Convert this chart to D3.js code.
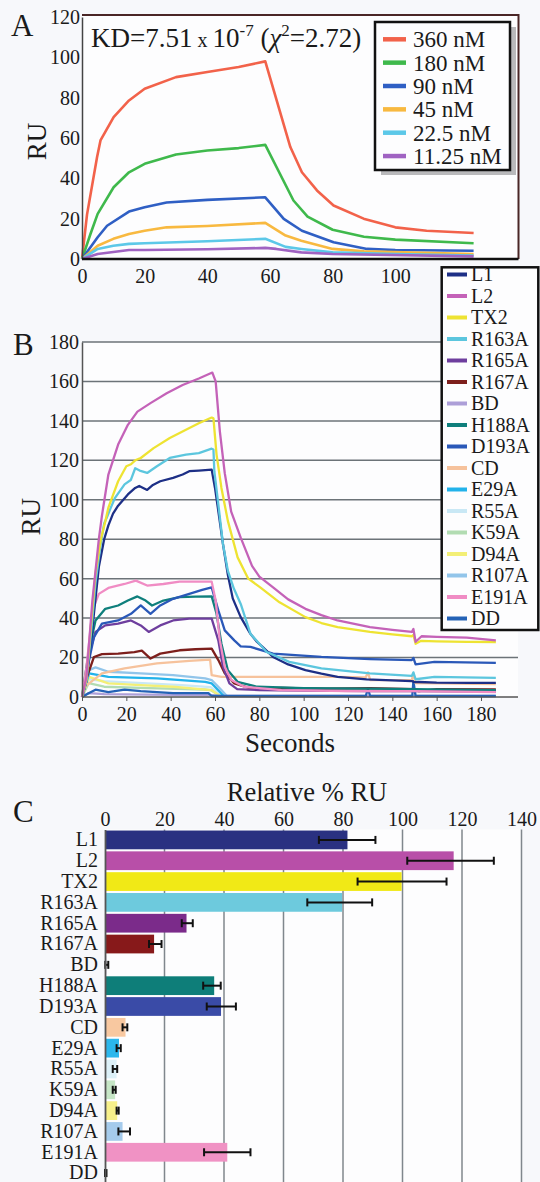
<!DOCTYPE html>
<html>
<head>
<meta charset="utf-8">
<script src="https://cdn.jsdelivr.net/npm/d3@7"></script>
<style>
  body { margin: 0; background: #f7f8fb; }
  svg text { font-family: "Liberation Serif", "Times New Roman", serif; }
</style>
</head>
<body>
<svg id="fig" width="540" height="1182"></svg>
<script>
// ---- panel A data: [seconds, RU] ----
const concLabels = ['360 nM', '180 nM', '90 nM', '45 nM', '22.5 nM', '11.25 nM'];
const conc360 = [[0,0],[1.6,22],[4.8,50.5],[5.9,58.8],[10.1,70.4],[15,78.6],[20,84.4],[30,90.2],[40,92.7],[50,95.2],[58.5,98],[66.5,55.5],[70.2,43],[75,34],[80.3,26.5],[89.9,20],[100,15.7],[110,14],[125,12.9]];
const conc180 = [[0,0],[2.7,12.4],[5,22.4],[10.1,35.6],[15,43],[20,47.2],[30,51.8],[40,53.8],[50,55],[58.5,56.6],[67.5,29],[72,21],[80,14.5],[90,11],[100,9.6],[125,7.8]];
const conc90 = [[0,0],[5,10.8],[8,16.5],[15,23.5],[20,25.7],[27,28],[40,29.3],[58.5,30.6],[64.4,19.9],[70.2,14],[80.3,8.3],[91,5],[100,4.5],[125,4.1]];
const conc45 = [[0,0],[5,6.6],[10,10],[15,12.4],[20,14],[27,15.7],[40,16.4],[58.5,17.9],[65,11.6],[70,9.1],[80,5],[90,3.8],[125,2.5]];
const conc22 = [[0,0],[5,5],[10,6.6],[15,7.5],[20,7.8],[40,8.8],[58.5,10],[65,6],[70,5],[80,3.3],[100,2.5],[125,1.7]];
const conc11 = [[0,0],[5,2.5],[15,4.5],[20,4.5],[40,4.8],[58.5,5.5],[62,5],[70,3.3],[80,2.5],[125,1.3]];
const concSeries = [conc360, conc180, conc90, conc45, conc22, conc11];
const ticksA_x = [0, 20, 40, 60, 80, 100];
const ticksA_y = [0, 20, 40, 60, 80, 100, 120];

// ---- panel B data: [seconds, RU] ----
const mutants = ['L1','L2','TX2','R163A','R165A','R167A','BD','H188A','D193A','CD','E29A','R55A','K59A','D94A','R107A','E191A','DD'];
const trL1 = [[0,0],[2,8],[4.7,35],[7.6,66],[10,80],[11.9,87],[14,93],[16.3,97],[20.7,102.7],[24,106],[25.8,107],[29.4,105],[32,107.5],[35.3,109.4],[41.1,111.1],[45.4,112.8],[48.4,114.5],[52.7,114.8],[58.5,115.3],[60,106],[61.5,94.3],[63.6,77.5],[65.8,62],[68,50],[71.6,40.5],[76,32],[78.9,28],[81.8,25],[86.2,20.3],[93,16.5],[100.8,13.6],[108,11.8],[115.3,10.2],[128.4,8.9],[140,8.4],[148.8,8.1],[150,7.5],[152,7.6],[160,7.3],[175,7.2],[186.7,7.2]];
const trL2 = [[0,0],[2,10],[4.7,49],[7.6,80],[9,92],[11.9,112.8],[16.3,128],[20.7,138],[25,144.7],[30.9,149],[38.2,154],[45.4,158.2],[52.7,161.5],[58.8,164.5],[60.3,160],[62.2,134.6],[64.4,113.5],[67.3,94],[71.6,80.8],[76.7,66.5],[80,61],[86.2,55.6],[93,49.5],[100.8,44.7],[108,41.5],[115.3,38.8],[129.9,35.4],[140,34],[148.8,33],[149.5,34.5],[150.5,28],[153.2,30.8],[160,30.5],[173.6,30.1],[186.7,28.7]];
const trTX2 = [[0,0],[2,9],[4.7,45],[6.1,63],[8.5,80],[10.5,89],[11.9,96],[16.3,109.4],[20,117],[22.1,118],[24,120],[26.5,121.2],[32.3,126.2],[39.6,131.3],[46.9,135.5],[52.7,138.8],[58.5,141.7],[59.3,141.3],[60.7,122.9],[62.9,106],[65.8,89.3],[70.2,70.8],[75,60],[80.4,55.6],[89.1,48],[100.8,40.5],[108,37.5],[115.3,35.4],[129.9,33],[140,31.8],[148.8,30.8],[149.5,31.5],[150.5,27],[153,28.5],[160,28.2],[173.6,27.9],[186.7,27.9]];
const trR163A = [[0,0],[2,8],[4.7,40],[6.1,58],[8.5,78],[10,88],[11.2,91],[13,96],[14.9,101],[19.2,107.8],[22,110],[24,116],[26,114.8],[29.4,113.6],[33.8,117],[39.6,121.2],[46.9,122.9],[52.7,123.7],[58.5,125.9],[59.3,125.5],[59.7,114.5],[61.5,97.7],[63.6,77.5],[65.8,64],[68.5,55],[71.6,47.2],[76,32],[83.3,22.8],[93.5,17.8],[108,14.5],[129.9,12],[148.8,10.7],[149.5,12.5],[150.5,9],[159,10.2],[186.7,9.7]];
const trR165A = [[0,0],[2,8],[3.2,22],[6.1,33],[10.5,36.3],[16.3,37.2],[22.1,38.8],[26.5,36.3],[30.1,33],[35.3,36.3],[41.1,38.8],[48.4,39.7],[58.5,39.7],[61.5,28.7],[63.6,15.3],[66.5,6.9],[70,4],[80,3.5],[100,3.2],[130,3],[150,3],[186.7,2.8]];
const trR167A = [[0,0],[2.2,10],[5.4,20.3],[9,21.7],[16.3,22],[23.6,22.8],[27,23.5],[30.9,19.5],[35.3,22],[44,23.7],[51.2,24.2],[58.5,24.5],[61.5,18.7],[64.4,12],[68.7,6.9],[76,4.4],[90,4.6],[110,4.2],[130,4.5],[150,4],[152,3],[160,4],[186.7,3.8]];
const trBD = [[0,0],[3,2],[10,1.5],[30,1.2],[58,1],[62,0.5],[100,0.5],[186.7,0.5]];
const trH188A = [[0,0],[3.2,24],[6.1,38.8],[10.5,44.7],[16.3,46.4],[20.7,48.9],[25,51],[28.7,48.9],[31.6,46.4],[36.7,48.9],[44,50.6],[51.2,50.9],[58.5,51],[60.7,42.2],[62.9,27],[65.8,13.6],[70.2,7.7],[79,5.2],[100,4.5],[130,4.2],[150,4],[186.7,3.5]];
const trD193A = [[0,0],[3.2,18.7],[5.4,30.4],[9,37.2],[16.3,38.8],[22.1,42.2],[26.5,46.4],[30.9,42.2],[35.3,46.4],[41.1,49.8],[48.4,52.3],[54.2,54.3],[58.5,55.6],[61.5,43.9],[64.4,33.8],[68.7,28.7],[71.6,25.7],[76,25.4],[86.2,22],[108,20.3],[129.9,19.2],[148.8,18.7],[149.5,19.8],[150.5,16.5],[159,17.8],[186.7,17.3]];
const trCD = [[0,0],[1,5],[9,12],[19.2,14.5],[33.8,17],[48.4,18.3],[57.8,19],[58.5,11.1],[62.9,10.2],[100,10.2],[115.3,10.2],[128,10],[129,12.5],[130,8.6],[148.8,8.6],[149.5,12],[150.5,7],[160,6.9],[186.7,6.5]];
const trE29A = [[0,0],[3.2,12],[11.9,10.2],[33.8,9.4],[55.6,7.7],[58.5,6.9],[64.4,0]];
const trR55A = [[0,0],[3,9],[10,8],[25,7.2],[45,6],[58,5],[64,0]];
const trK59A = [[0,0],[3,7],[10,5.2],[30,4.5],[55,3.8],[58,3.5],[63,0]];
const trD94A = [[0,0],[3.2,10.2],[11.9,6.9],[26.5,6],[41.1,5.2],[58.5,3.5],[62.9,0]];
const trR107A = [[0,0],[3.2,13.6],[6.1,15],[11.9,12.8],[26.5,12],[41.1,11.1],[55.6,9.4],[58.5,8.6],[62.9,3.5],[65.8,0]];
const trE191A = [[0,0],[2,15],[4.7,43.9],[7.6,52.3],[11.9,55.3],[19.2,57.3],[24.3,59],[29.4,56.5],[36.7,57.3],[44,58.5],[58.5,58.5],[60.3,48.9],[62.2,28.7],[64.4,15.3],[67.3,8.6],[73.1,5.2],[90,3.5],[120,3],[150,3],[186.7,2.5]];
const trDD = [[0,0],[3.2,2],[6.1,3.7],[11.9,2.5],[19.2,3.7],[26.5,3],[41.1,2],[57,2],[58.5,0.5],[128,0.5],[129,4],[130,0.5],[149,0.5],[149.5,8],[150.5,0.5],[186.7,0.5]];
const traces = [trL1, trL2, trTX2, trR163A, trR165A, trR167A, trBD, trH188A, trD193A, trCD, trE29A, trR55A, trK59A, trD94A, trR107A, trE191A, trDD];
const ticksB = [0, 20, 40, 60, 80, 100, 120, 140, 160, 180];

// ---- panel C data: relative % RU with error range ----
const relRU   = [81.5, 117.2, 99.7, 79.7, 27.4, 16.5, 0.4, 36.7, 39, 6.9, 4.7, 3.9, 3.4, 4.1, 5.9, 41.1, 0.3];
const relLow  = [71.9, 101.6, 84.9, 68, 25.8, 14.8, 0.1, 33, 34.2, 5.9, 3.9, 2.6, 2.6, 3.9, 4.5, 33.3, 0];
const relHigh = [90.9, 130.7, 114.8, 89.8, 29.5, 19, 1.1, 38.9, 44, 7.5, 5.3, 4.1, 3.6, 4.6, 8.4, 48.9, 0.5];
const ticksC = [0, 20, 40, 60, 80, 100, 120, 140];

// colours
const concColors = ['#f2624a', '#3fb94c', '#2f5fc4', '#f8b940', '#5cc8e8', '#a063c2'];
const lineColors = ['#1d2f86','#c462b8','#eee332','#5cc6de','#6e3e9e','#7d1f1c','#ad9fd8','#0f7f7c','#2a58b8','#f6c29c','#22b2ea','#c9e8f5','#b2dcb2','#f3ef76','#92c5ea','#f08cc4','#2462b6'];
const barColors = ['#2a3181','#b84fa8','#f1e916','#6dcadd','#7b2b8a','#87191a','#a99bd3','#0e7e79','#3a4ba7','#f8c8a0','#2cb7ec','#dcf0f8','#c6e6c6','#f7f08a','#a5cbec','#f092c4','#2a5cb0'];

const svg = d3.select('#fig');
const ink = '#1a1a1a';

function styleTicks(g, size) {
  g.selectAll('text').attr('font-size', size).attr('fill', ink);
  g.selectAll('line').attr('stroke', '#555');
}

// ================= Panel A =================
const xA = d3.scaleLinear().domain([0, 140]).range([82, 520.6]);
const yA = d3.scaleLinear().domain([0, 120]).range([259, 17]);
const gA = svg.append('g');
const aRight = 518.5, aTop = 15;

gA.append('rect')
  .attr('x', xA(0)).attr('y', aTop)
  .attr('width', aRight - xA(0)).attr('height', yA(0) - aTop)
  .attr('fill', '#fdfdfe');
gA.append('path')
  .attr('d', `M${xA(0)},${aTop}H${aRight}V${yA(0)}`)
  .attr('fill', 'none').attr('stroke', '#4a2626').attr('stroke-width', 2);

const lineA = d3.line().x(d => xA(d[0])).y(d => yA(d[1]));
gA.selectAll('path.conc').data(concSeries).enter().append('path')
  .attr('class', 'conc')
  .attr('d', lineA)
  .attr('fill', 'none')
  .attr('stroke', (d, i) => concColors[i])
  .attr('stroke-width', 2.6)
  .attr('stroke-linejoin', 'round');

const axA_y = gA.append('g').attr('transform', `translate(${xA(0)},0)`)
  .call(d3.axisLeft(yA).tickValues(ticksA_y).tickSize(0).tickPadding(2));
axA_y.select('.domain').attr('stroke', '#444').attr('stroke-width', 1.5);
styleTicks(axA_y, 20);

const axA_x = gA.append('g').attr('transform', `translate(0,${yA(0)})`)
  .call(d3.axisBottom(xA).tickValues(ticksA_x).tickSize(0).tickPadding(10));
axA_x.select('.domain').attr('d', `M${xA(0)},0H${aRight}`).attr('stroke', '#111').attr('stroke-width', 2.5);
styleTicks(axA_x, 20);

// KD annotation
const kd = gA.append('text').attr('x', 91).attr('y', 47).attr('font-size', 27).attr('fill', ink);
kd.append('tspan').text('KD=7.51');
kd.append('tspan').attr('font-size', 20).text(' x ');
kd.append('tspan').text('10');
kd.append('tspan').attr('font-size', 17).attr('dy', -11).text('-7');
kd.append('tspan').attr('dy', 11).text(' (');
kd.append('tspan').attr('font-style', 'italic').text('χ');
kd.append('tspan').attr('font-size', 17).attr('dy', -11).text('2');
kd.append('tspan').attr('dy', 11).text('=2.72)');

// legend A
const legA = svg.append('g');
legA.append('rect').attr('x', 381).attr('y', 27).attr('width', 135).attr('height', 148).attr('fill', '#b9b9bb');
legA.append('rect').attr('x', 375).attr('y', 22).attr('width', 135).attr('height', 148)
  .attr('fill', '#fdfdfe').attr('stroke', '#111').attr('stroke-width', 2.5);
const legAItems = legA.selectAll('g.item').data(concLabels).enter().append('g')
  .attr('transform', (d, i) => `translate(0,${39.3 + i * 23.35})`);
legAItems.append('line').attr('x1', 383).attr('x2', 406)
  .attr('stroke', (d, i) => concColors[i]).attr('stroke-width', 4.5);
legAItems.append('text').attr('x', 413).attr('y', 8).attr('font-size', 23).attr('fill', ink).text(d => d);

// ================= Panel B =================
const xB = d3.scaleLinear().domain([0, 180]).range([82, 481]);
const yB = d3.scaleLinear().domain([0, 180]).range([697, 342]);
const bRight = 518;
const gB = svg.append('g');

gB.append('rect').attr('x', xB(0)).attr('y', yB(180))
  .attr('width', bRight - xB(0)).attr('height', yB(0) - yB(180)).attr('fill', '#fdfdfe');
gB.selectAll('line.grid').data(ticksB.slice(1)).enter().append('line')
  .attr('x1', xB(0)).attr('x2', bRight)
  .attr('y1', d => yB(d)).attr('y2', d => yB(d))
  .attr('stroke', '#6c7378').attr('stroke-width', 1.5);

const lineB = d3.line().x(d => xB(d[0])).y(d => yB(d[1]));
const drawOrder = [11, 12, 13, 6, 10, 14, 16, 9, 5, 4, 7, 8, 15, 0, 3, 2, 1];
gB.selectAll('path.trace').data(drawOrder).enter().append('path')
  .attr('class', 'trace')
  .attr('d', i => lineB(traces[i]))
  .attr('fill', 'none')
  .attr('stroke', i => lineColors[i])
  .attr('stroke-width', 2.3)
  .attr('stroke-linejoin', 'round');

const axB_y = gB.append('g').attr('transform', `translate(${xB(0)},0)`)
  .call(d3.axisLeft(yB).tickValues(ticksB).tickSize(0).tickPadding(3));
axB_y.select('.domain').attr('stroke', '#555').attr('stroke-width', 1.5);
styleTicks(axB_y, 20);

const axB_x = gB.append('g').attr('transform', `translate(0,${yB(0)})`)
  .call(d3.axisBottom(xB).tickValues(ticksB).tickSize(4).tickPadding(6).tickSizeOuter(0));
axB_x.select('.domain').attr('d', `M${xB(0)},0H${bRight}`).attr('stroke', '#555').attr('stroke-width', 1.5);
styleTicks(axB_x, 20);

gB.append('text').attr('x', 290).attr('y', 752).attr('text-anchor', 'middle')
  .attr('font-size', 27).attr('fill', ink).text('Seconds');

// legend B
const legB = svg.append('g');
legB.append('rect').attr('x', 441.7).attr('y', 267.3).attr('width', 96.6).attr('height', 362.7)
  .attr('fill', '#fdfdfe').attr('stroke', '#111').attr('stroke-width', 2.5);
const legBItems = legB.selectAll('g.item').data(mutants).enter().append('g')
  .attr('transform', (d, i) => `translate(0,${274.5 + i * 21.5})`);
legBItems.append('line').attr('x1', 447).attr('x2', 467)
  .attr('stroke', (d, i) => lineColors[i]).attr('stroke-width', 4);
legBItems.append('text').attr('x', 471).attr('y', 6.5).attr('font-size', 20).attr('fill', ink).text(d => d);

// ================= Panel C =================
const xC = d3.scaleLinear().domain([0, 140]).range([105, 521.5]);
const yC = d3.scaleBand().domain(mutants).range([829.5, 1183.5]).paddingInner(0.1).paddingOuter(0.05);
const gC = svg.append('g');

gC.append('rect').attr('x', xC(0)).attr('y', 829.5).attr('width', xC(140) - xC(0)).attr('height', 1182 - 829.5)
  .attr('fill', '#fdfdfe');
gC.selectAll('line.grid').data(ticksC.slice(1)).enter().append('line')
  .attr('x1', d => xC(d)).attr('x2', d => xC(d))
  .attr('y1', 829.5).attr('y2', 1182)
  .attr('stroke', '#80878d').attr('stroke-width', 1.5);

gC.selectAll('rect.bar').data(relRU).enter().append('rect')
  .attr('class', 'bar')
  .attr('x', xC(0))
  .attr('y', (d, i) => yC(mutants[i]))
  .attr('width', d => xC(d) - xC(0))
  .attr('height', yC.bandwidth())
  .attr('fill', (d, i) => barColors[i]);

const errG = gC.selectAll('g.err').data(relRU).enter().append('g')
  .attr('transform', (d, i) => `translate(0,${yC(mutants[i]) + yC.bandwidth() / 2})`);
errG.append('line').attr('x1', (d, i) => xC(relLow[i])).attr('x2', (d, i) => xC(relHigh[i]))
  .attr('stroke', '#111').attr('stroke-width', 2);
errG.append('line').attr('x1', (d, i) => xC(relLow[i])).attr('x2', (d, i) => xC(relLow[i]))
  .attr('y1', -4).attr('y2', 4).attr('stroke', '#111').attr('stroke-width', 2);
errG.append('line').attr('x1', (d, i) => xC(relHigh[i])).attr('x2', (d, i) => xC(relHigh[i]))
  .attr('y1', -4).attr('y2', 4).attr('stroke', '#111').attr('stroke-width', 2);

const axC_x = gC.append('g').attr('transform', 'translate(0,829.5)')
  .call(d3.axisTop(xC).tickValues(ticksC).tickSize(0).tickPadding(4));
axC_x.select('.domain').remove();
styleTicks(axC_x, 20);

const axC_y = gC.append('g').attr('transform', `translate(${xC(0)},0)`)
  .call(d3.axisLeft(yC).tickSize(0).tickPadding(7));
axC_y.select('.domain').attr('stroke', '#555').attr('stroke-width', 1.8);
styleTicks(axC_y, 20);

gC.append('text').attr('x', 307).attr('y', 801).attr('text-anchor', 'middle')
  .attr('font-size', 26.5).attr('fill', ink).text('Relative % RU');

// ---- panel letters and RU titles ----
svg.append('text').attr('x', 11).attr('y', 36).attr('font-size', 31).attr('fill', ink).text('A');
svg.append('text').attr('x', 13).attr('y', 355).attr('font-size', 31).attr('fill', ink).text('B');
svg.append('text').attr('x', 13).attr('y', 822).attr('font-size', 31).attr('fill', ink).text('C');
svg.append('text').attr('transform', 'translate(46,141.5) rotate(-90)').attr('text-anchor', 'middle')
  .attr('font-size', 27).attr('fill', ink).text('RU');
svg.append('text').attr('transform', 'translate(40,516.7) rotate(-90)').attr('text-anchor', 'middle')
  .attr('font-size', 27).attr('fill', ink).text('RU');
</script>
</body>
</html>
